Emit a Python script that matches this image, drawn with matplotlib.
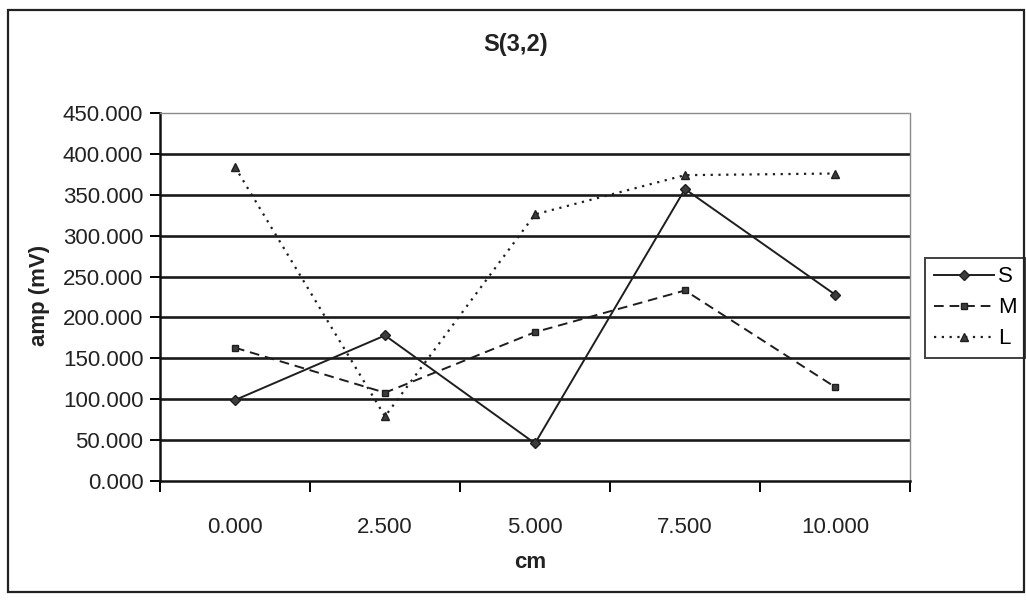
import matplotlib
matplotlib.use("Agg")
import matplotlib.pyplot as plt
from matplotlib.patches import Rectangle

plt.rcParams['font.family'] = ['Liberation Sans', 'DejaVu Sans']

# Data
categories = ["0.000", "2.500", "5.000", "7.500", "10.000"]
s_values = [99, 178, 46, 357, 228]
m_values = [163, 108, 182, 233, 115]
l_values = [384, 79, 326, 374, 376]
y_ticks = [0, 50, 100, 150, 200, 250, 300, 350, 400, 450]

W, H = 1026, 605
fig = plt.figure(figsize=(W / 100, H / 100), dpi=100)
fig.patch.set_facecolor("white")

# Outer chart frame
fig.add_artist(Rectangle((8 / W, 1 - 592 / H), (1024 - 8) / W, (592 - 10) / H,
                         transform=fig.transFigure, fill=False,
                         edgecolor="#222222", linewidth=1.6))

left, right, top, bottom = 160, 910, 113, 481
ax = fig.add_axes([left / W, 1 - bottom / H, (right - left) / W, (bottom - top) / H])

x = list(range(len(categories)))
ink = "#1e1e1e"
mfill = "#3c3c3c"

ax.plot(x, s_values, color=ink, lw=1.4, marker="D", markersize=5,
        markerfacecolor=mfill, markeredgecolor=ink, label="S")
ax.plot(x, m_values, color=ink, lw=1.4, dashes=(5, 3), marker="s", markersize=5,
        markerfacecolor=mfill, markeredgecolor=ink, label="M")
ax.plot(x, l_values, color=ink, lw=1.6, dashes=(1, 2.5), marker="^", markersize=6,
        markerfacecolor=mfill, markeredgecolor=ink, label="L")

ax.set_xlim(-0.5, len(categories) - 0.5)
ax.set_ylim(0, 450)

# Y axis
ax.set_yticks(y_ticks)
ax.set_yticklabels([f"{v:.3f}" for v in y_ticks], fontsize=16, color="#222222")
ax.tick_params(axis="y", direction="out", length=7, width=1.4, pad=5)
ax.yaxis.grid(True, color="#1a1a1a", linewidth=1.9)
gl = ax.get_ygridlines()
gl[0].set_visible(False)
gl[-1].set_visible(False)
ax.set_axisbelow(True)

# X axis: category boundaries as major ticks, labels at category centres
ax.set_xticks([i - 0.5 for i in range(len(categories) + 1)])
ax.set_xticklabels([])
ax.tick_params(axis="x", which="major", direction="out", length=8, width=1.4)
ax.set_xticks(x, minor=True)
ax.set_xticklabels(categories, minor=True, fontsize=16, color="#222222")
ax.tick_params(axis="x", which="minor", length=0, pad=26)

for side in ("left", "bottom"):
    ax.spines[side].set_color("#111111")
    ax.spines[side].set_linewidth(1.8)
for side in ("top", "right"):
    ax.spines[side].set_color("#8a8a8a")
    ax.spines[side].set_linewidth(1.0)
    ax.spines[side].set_linestyle((0, (2, 1)))

# Titles
fig.text(516 / W, 1 - 45 / H, "S(3,2)", ha="center", va="center",
         fontsize=17, fontweight="bold", color="#222222")
fig.text(40 / W, 1 - 295 / H, "amp (mV)", ha="center", va="center",
         rotation=90, fontsize=16, fontweight="bold", color="#222222")
fig.text(530 / W, 1 - 563 / H, "cm", ha="center", va="center",
         fontsize=16, fontweight="bold", color="#222222")

# Legend
leg = ax.legend(loc="center left", bbox_to_anchor=(925 / W, 1 - 308 / H),
                bbox_transform=fig.transFigure, fontsize=16, frameon=True,
                fancybox=False, handlelength=2.7, handletextpad=0.2,
                borderpad=0.4, labelspacing=0.45, borderaxespad=0)
leg.get_frame().set_edgecolor("#111111")
leg.get_frame().set_linewidth(1.4)

fig.savefig("out.png", dpi=100, facecolor="white")
